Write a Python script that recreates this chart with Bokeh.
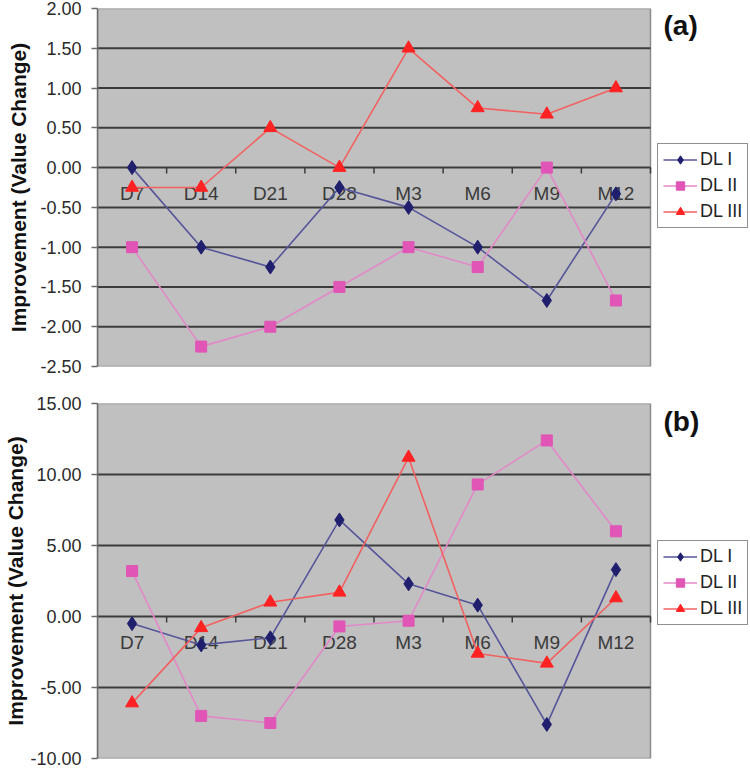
from bokeh.plotting import figure
from bokeh.layouts import column
from bokeh.models import (Range1d, FixedTicker, NumeralTickFormatter, Legend,
                          LegendItem, Label, ColumnDataSource)
from bokeh.core.properties import value
from bokeh.embed import file_html
from bokeh.resources import INLINE

# ---------------- data ----------------
categories = ["D7", "D14", "D21", "D28", "M3", "M6", "M9", "M12"]
series_names = ["DL I", "DL II", "DL III"]

a_dl1 = [0.00, -1.00, -1.25, -0.25, -0.50, -1.00, -1.67, -0.33]
a_dl2 = [-1.00, -2.25, -2.00, -1.50, -1.00, -1.25, 0.00, -1.67]
a_dl3 = [-0.25, -0.25, 0.50, 0.00, 1.50, 0.75, 0.67, 1.00]

b_dl1 = [-0.5, -2.0, -1.5, 6.8, 2.3, 0.8, -7.6, 3.3]
b_dl2 = [3.2, -7.0, -7.5, -0.7, -0.3, 9.3, 12.4, 6.0]
b_dl3 = [-6.1, -0.8, 1.0, 1.7, 11.2, -2.6, -3.3, 1.3]

a_ticks = [-2.50, -2.00, -1.50, -1.00, -0.50, 0.00, 0.50, 1.00, 1.50, 2.00]
b_ticks = [-10.0, -5.0, 0.0, 5.0, 10.0, 15.0]

panel_tags = ["(a)", "(b)"]
y_title = "Improvement (Value Change)"

# ---------------- styles ----------------
FONT = "Liberation Sans"
marker_types = ["diamond", "square", "triangle"]
marker_sizes = [14, 11, 13]
marker_colors = ["#1f1f6e", "#e055b5", "#ff2222"]
line_colors = ["#55559a", "#e288c8", "#f26060"]

PLOT_W = 553      # width of the grey plot area
FRAME_W = 651     # grey area + legend column on the right
LEFT = 97


def make_panel(series, ticks, tag, frame_h, top, bottom, title_standoff,
               legend_top, tag_top):
    n = len(categories)
    x_max = n * FRAME_W / PLOT_W
    p = figure(frame_width=FRAME_W, frame_height=frame_h,
               x_range=Range1d(0, x_max),
               y_range=Range1d(ticks[0], ticks[-1]),
               x_axis_location=None,
               output_backend="svg", toolbar_location=None,
               min_border_left=LEFT, min_border_right=0,
               min_border_top=top, min_border_bottom=bottom)
    p.background_fill_color = "white"
    p.border_fill_color = "white"
    p.outline_line_color = None
    p.xgrid.visible = False
    p.ygrid.visible = False

    # grey plot area
    p.quad(left=[0], right=[n], bottom=[ticks[0]], top=[ticks[-1]],
           fill_color="#c0c0c0", line_color="#8c8c8c", line_width=1.5)
    inner = ticks[1:-1]
    p.segment(x0=[0] * len(inner), y0=inner, x1=[n] * len(inner), y1=inner,
              line_color="#3c3c3c", line_width=2)

    ax = p.yaxis[0]
    ax.ticker = FixedTicker(ticks=ticks)
    ax.formatter = NumeralTickFormatter(format="0.00")
    ax.major_tick_out = 6
    ax.major_tick_in = 0
    ax.minor_tick_line_color = None
    ax.axis_line_color = "#6a6a6a"
    ax.axis_line_width = 1.5
    ax.major_tick_line_color = "#6a6a6a"
    ax.major_tick_line_width = 1.5
    ax.major_label_standoff = 10
    ax.major_label_text_font = FONT
    ax.major_label_text_font_size = "18px"
    ax.major_label_text_color = "#2a2a2a"
    ax.axis_label = y_title
    ax.axis_label_text_font = FONT
    ax.axis_label_text_font_size = "21px"
    ax.axis_label_text_font_style = "bold"
    ax.axis_label_text_color = "#111111"
    ax.axis_label_standoff = title_standoff

    # x axis crossing at zero: tick marks between categories and labels
    px_per_unit = frame_h / (ticks[-1] - ticks[0])
    tick_len = 6 / px_per_unit
    bounds = list(range(1, n + 1))
    p.segment(x0=bounds, y0=[0] * len(bounds), x1=bounds,
              y1=[-tick_len] * len(bounds), line_color="#3c3c3c", line_width=1.5)
    xs = [i + 0.5 for i in range(n)]
    p.text(x=xs, y=[0] * n, text=categories, y_offset=26,
           text_align="center", text_baseline="middle",
           text_font=value(FONT), text_font_size="19px", text_color="#3a3a3a")

    items = []
    for k, ys in enumerate(series):
        src = ColumnDataSource(dict(x=xs, y=ys))
        r1 = p.line("x", "y", source=src, line_color=line_colors[k], line_width=1.6)
        r2 = p.scatter("x", "y", source=src, marker=marker_types[k],
                       size=marker_sizes[k], fill_color=marker_colors[k],
                       line_color=marker_colors[k])
        items.append(LegendItem(label=series_names[k], renderers=[r1, r2]))

    leg_h = 83
    leg = Legend(items=items, location=(PLOT_W + 7, frame_h - legend_top - leg_h),
                 margin=0, padding=5, spacing=5, label_height=21,
                 glyph_height=21, glyph_width=34, label_standoff=3,
                 label_text_font=FONT, label_text_font_size="18px",
                 label_text_color="#222222",
                 border_line_color="#222222", border_line_width=1.2,
                 background_fill_color="white", background_fill_alpha=1.0)
    p.add_layout(leg, "center")

    p.add_layout(Label(x=PLOT_W + 13, y=frame_h - tag_top, x_units="screen",
                       y_units="screen", text=tag, text_font=FONT,
                       text_font_size="28px", text_font_style="bold",
                       text_color="#111111", text_baseline="middle",
                       text_align="left"))
    return p


pa = make_panel([a_dl1, a_dl2, a_dl3], a_ticks, panel_tags[0],
                frame_h=358, top=8, bottom=18, title_standoff=7,
                legend_top=137, tag_top=17)
pb = make_panel([b_dl1, b_dl2, b_dl3], b_ticks, panel_tags[1],
                frame_h=355, top=19, bottom=10, title_standoff=0,
                legend_top=139, tag_top=18)

layout = column(pa, pb, spacing=0)
open("out.html", "w").write(file_html(layout, INLINE))
